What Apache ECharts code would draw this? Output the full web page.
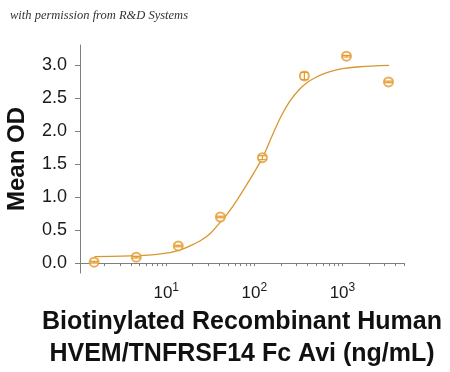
<!DOCTYPE html>
<html>
<head>
<meta charset="utf-8">
<script src="https://cdn.jsdelivr.net/npm/echarts@6/dist/echarts.min.js"></script>
<style>
  html, body { margin: 0; padding: 0; background: #fff; }
  #chart { width: 450px; height: 372px; }
</style>
</head>
<body>
<div id="chart"></div>
<script>
// ---- data ----
const concentration = [1.52, 4.57, 13.7, 41.2, 123.5, 370, 1111, 3333];   // ng/mL
const meanOD        = [0.015, 0.09, 0.26, 0.70, 1.60, 2.84, 3.14, 2.75];
const errorOD       = [0.012, 0.012, 0.012, 0.012, 0.03, 0.055, 0.012, 0.012];

// fitted curve
const fitConc = [1.53, 3.16, 6.31, 10, 12.6, 15.8, 20.0, 25.1, 31.6, 39.8, 50.1, 63.1, 79.4, 100,
                 126, 158, 200, 251, 316, 398, 501, 631, 794, 1000, 1585, 3388];
const fitOD   = [0.10, 0.105, 0.12, 0.15, 0.18, 0.22, 0.28, 0.35, 0.45, 0.60, 0.76, 0.95, 1.16, 1.38,
                 1.62, 1.92, 2.22, 2.45, 2.62, 2.74, 2.82, 2.88, 2.92, 2.95, 2.98, 3.00];

const yTickValues  = [0, 0.5, 1.0, 1.5, 2.0, 2.5, 3.0];
const xLabelValues = [10, 100, 1000];
const xTickValues  = [2, 3, 4, 5, 6, 7, 8, 9, 10, 20, 30, 40, 50, 60, 70, 80, 90, 100,
                      200, 300, 400, 500, 600, 700, 800, 900, 1000, 2000, 3000, 4000, 5000];

const xTitle = 'Biotinylated Recombinant Human\nHVEM/TNFRSF14 Fc Avi (ng/mL)';
const yTitle = 'Mean OD';
const credit = 'with permission from R&D Systems';

// ---- chart ----
const FONT = '"Liberation Sans", Arial, Helvetica, sans-serif';
const ORANGE = '#E39A2E';
const LINE = '#D9962E';
const AXIS = '#7f7f7f';

const points = concentration.map((c, i) => [c, meanOD[i]]);
const errs = concentration.map((c, i) => [c, meanOD[i] - errorOD[i], meanOD[i] + errorOD[i]]);
const fit = fitConc.map((c, i) => [c, fitOD[i]]);

const chart = echarts.init(document.getElementById('chart'), null, { renderer: 'canvas' });
chart.setOption({
  animation: false,
  backgroundColor: '#fff',
  textStyle: { fontFamily: FONT },
  graphic: [{
    type: 'text', left: 10, top: 9,
    style: { text: credit, font: 'italic 12.5px "Liberation Serif", "DejaVu Serif", serif', fill: '#333' }
  }],
  grid: { left: 80, right: 46, top: 45, bottom: 99, containLabel: false, outerBoundsMode: 'none' },
  xAxis: {
    type: 'log', logBase: 10, min: 1.05, max: 5000,
    axisLine: { show: true, lineStyle: { color: AXIS, width: 1 } },
    axisTick: { show: true, length: 3, customValues: xTickValues, lineStyle: { color: AXIS } },
    minorTick: { show: false },
    splitLine: { show: false },
    axisLabel: {
      customValues: xLabelValues, margin: 9,
      formatter: v => '{b|10}{s|' + Math.round(Math.log10(v)) + '}',
      rich: {
        b: { fontSize: 17, lineHeight: 22, color: '#1a1a1a', fontFamily: FONT },
        s: { fontSize: 12, lineHeight: 22, color: '#1a1a1a', fontFamily: FONT, verticalAlign: 'top' }
      }
    },
    name: xTitle, nameLocation: 'middle', nameGap: 33,
    nameTextStyle: { fontSize: 25, fontWeight: 'bold', color: '#111', lineHeight: 32, fontFamily: FONT }
  },
  yAxis: {
    type: 'value', min: -0.15, max: 3.31,
    axisLine: { show: true, lineStyle: { color: AXIS, width: 1 } },
    axisTick: { show: true, length: 5, customValues: yTickValues, lineStyle: { color: AXIS } },
    splitLine: { show: false },
    axisLabel: {
      customValues: yTickValues, margin: 13,
      formatter: v => v.toFixed(1),
      fontSize: 18, color: '#1a1a1a', fontFamily: FONT
    },
    name: yTitle, nameLocation: 'middle', nameGap: 51, nameRotate: 90,
    nameTextStyle: { fontSize: 24, fontWeight: 'bold', color: '#111', fontFamily: FONT }
  },
  series: [
    {
      type: 'line', data: fit, smooth: 0.3, showSymbol: false, silent: true,
      lineStyle: { color: LINE, width: 1.3 }, z: 2
    },
    {
      type: 'scatter', data: points, symbol: 'emptyCircle', symbolSize: 9, z: 4,
      itemStyle: { color: ORANGE, borderColor: ORANGE, borderWidth: 1.3 }
    },
    {
      type: 'custom', data: errs, z: 6, silent: true,
      renderItem: (params, api) => {
        const x = api.value(0);
        const lo = api.coord([x, api.value(1)]);
        const hi = api.coord([x, api.value(2)]);
        const w = 4;
        const st = { stroke: ORANGE, lineWidth: 1.2, fill: null };
        return {
          type: 'group',
          children: [
            { type: 'line', shape: { x1: lo[0], y1: lo[1], x2: hi[0], y2: hi[1] }, style: st },
            { type: 'line', shape: { x1: lo[0] - w, y1: lo[1], x2: lo[0] + w, y2: lo[1] }, style: st },
            { type: 'line', shape: { x1: hi[0] - w, y1: hi[1], x2: hi[0] + w, y2: hi[1] }, style: st }
          ]
        };
      }
    }
  ]
});
</script>
</body>
</html>
